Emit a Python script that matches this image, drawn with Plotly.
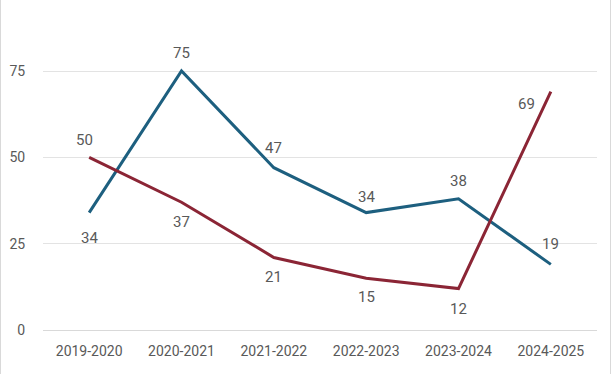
import plotly.graph_objects as go

categories = ["2019-2020", "2020-2021", "2021-2022", "2022-2023", "2023-2024", "2024-2025"]
blue_values = [34, 75, 47, 34, 38, 19]
red_values = [50, 37, 21, 15, 12, 69]

# label placement offsets in pixels (x, y; positive y = up)
blue_label_shift = [(0, -25), (0, 18), (0, 20), (0, 16), (0, 18), (0, 20)]
red_label_shift = [(-5, 17), (0, -20), (0, -20), (0, -19), (0, -20), (-24, -12)]

BLUE = "#1d5f7f"
RED = "#8b2535"
TXT = "#595959"
FONT = "Roboto"

W, H = 612, 374
L, R, T, B = 43, 15, 10, 44

fig = go.Figure()
fig.add_trace(go.Scatter(x=categories, y=blue_values, mode="lines",
                         line=dict(color=BLUE, width=3), showlegend=False, hoverinfo="skip"))
fig.add_trace(go.Scatter(x=categories, y=red_values, mode="lines",
                         line=dict(color=RED, width=3), showlegend=False, hoverinfo="skip"))

anns = []
for vals, shifts in ((blue_values, blue_label_shift), (red_values, red_label_shift)):
    for c, v, (xs, ys) in zip(categories, vals, shifts):
        anns.append(dict(x=c, y=v, text=str(v), showarrow=False, xshift=xs, yshift=ys,
                         font=dict(family=FONT, size=15, color=TXT)))

pw = W - L - R
ph = H - T - B
fig.update_layout(
    width=W, height=H,
    margin=dict(l=L, r=R, t=T, b=B),
    paper_bgcolor="white", plot_bgcolor="white",
    annotations=anns,
    font=dict(family=FONT, size=14, color=TXT),
    xaxis=dict(showgrid=False, showline=True, linecolor="#d9d9d9", linewidth=1,
               range=[-0.5, len(categories) - 0.5],
               ticks="outside", ticklen=8, tickcolor="rgba(0,0,0,0)",
               tickfont=dict(family=FONT, size=14, color=TXT), zeroline=False),
    yaxis=dict(range=[0, 75 * ph / (330 - 71)], tickvals=[0, 25, 50, 75],
               showgrid=True, gridcolor="#e3e3e3", gridwidth=1, zeroline=False,
               showline=False, ticks="outside", ticklen=14, tickcolor="rgba(0,0,0,0)",
               tickfont=dict(family=FONT, size=14, color=TXT)),
    shapes=[
        dict(type="line", xref="paper", yref="paper",
             x0=-(L - 0.5) / pw, x1=-(L - 0.5) / pw, y0=-B / ph, y1=1 + T / ph,
             line=dict(color="#d9d9d9", width=1), layer="below"),
        dict(type="line", xref="paper", yref="paper",
             x0=1 + (R - 1.5) / pw, x1=1 + (R - 1.5) / pw, y0=-B / ph, y1=1 + T / ph,
             line=dict(color="#d9d9d9", width=1), layer="below"),
    ],
)

fig.write_html("out.html", config={"displayModeBar": False},
               post_script="document.body.style.margin='0';document.body.style.overflow='hidden';")
